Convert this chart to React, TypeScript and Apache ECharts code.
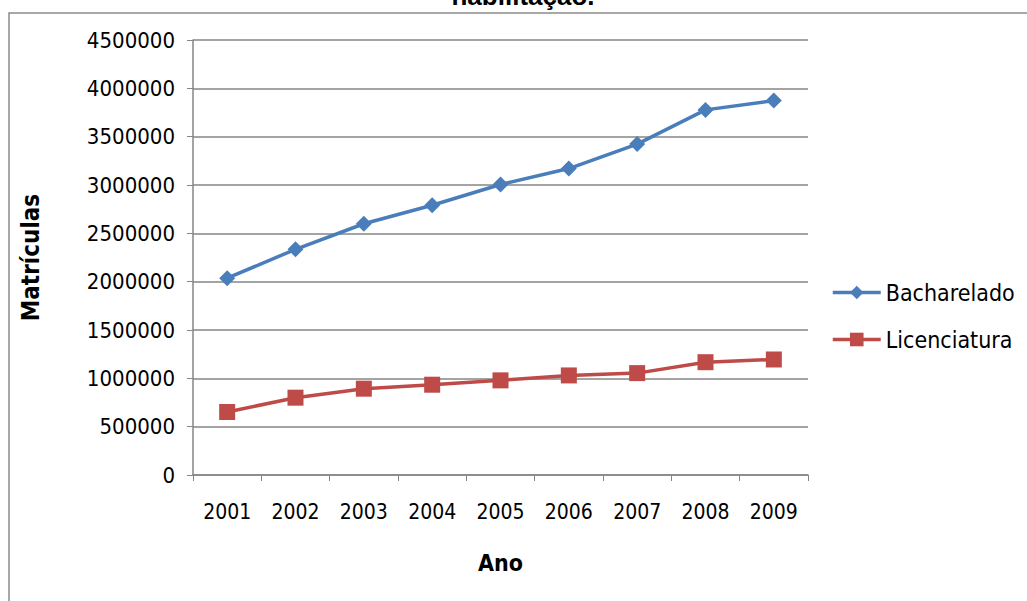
import React, { useEffect, useRef } from "react";
import * as echarts from "echarts";

const years = ["2001", "2002", "2003", "2004", "2005", "2006", "2007", "2008", "2009"];
const bacharelado = [2036000, 2335000, 2599000, 2791000, 3005000, 3170000, 3423000, 3777000, 3873000];
const licenciatura = [652000, 800000, 893000, 934000, 979000, 1030000, 1054000, 1167000, 1195000];

const FONT = "DejaVu Sans Condensed";

export default function App() {
  const ref = useRef<HTMLDivElement>(null);
  useEffect(() => {
    const chart = echarts.init(ref.current!, null, { renderer: "svg" });
    chart.setOption({
      animation: false,
      backgroundColor: "#ffffff",
      title: {
        text: "habilitação.",
        left: 518,
        textAlign: "center",
        top: -22,
        textStyle: { fontFamily: "Liberation Sans", fontWeight: "bold", fontSize: 26, color: "#000" },
      },
      graphic: [
        {
          type: "rect",
          shape: { x: 9, y: 13, width: 1040, height: 600 },
          style: { fill: "none", stroke: "#8c8c8c", lineWidth: 1.5 },
          z: -1,
        },
      ],
      grid: { left: 193, right: 219, top: 40, bottom: 126, containLabel: false },
      legend: {
        orient: "vertical",
        left: 826,
        top: 276,
        itemWidth: 48,
        itemHeight: 17,
        itemGap: 24,
        lineStyle: { width: 3.5 },
        textStyle: { fontFamily: FONT, fontSize: 23, color: "#000" },
        data: ["Bacharelado", "Licenciatura"],
      },
      xAxis: {
        type: "category",
        data: years,
        boundaryGap: true,
        name: "Ano",
        nameLocation: "middle",
        nameGap: 76,
        nameTextStyle: { fontFamily: FONT, fontSize: 23, fontWeight: "bold", color: "#000" },
        axisLine: { lineStyle: { color: "#868686", width: 1.5 } },
        axisTick: { show: true, length: 6, lineStyle: { color: "#868686" } },
        axisLabel: { fontFamily: FONT, fontSize: 21, color: "#000", margin: 26 },
      },
      yAxis: {
        type: "value",
        min: 0,
        max: 4500000,
        interval: 500000,
        name: "Matrículas",
        nameLocation: "middle",
        nameGap: 150,
        nameRotate: 90,
        nameTextStyle: { fontFamily: FONT, fontSize: 24, fontWeight: "bold", color: "#000" },
        axisLine: { show: true, lineStyle: { color: "#868686", width: 1.5 } },
        axisTick: { show: true, length: 6, lineStyle: { color: "#868686" } },
        axisLabel: { fontFamily: FONT, fontSize: 22, color: "#000", margin: 18, formatter: (v: number) => String(v) },
        splitLine: { lineStyle: { color: "#868686", width: 1.5 } },
      },
      series: [
        {
          name: "Bacharelado",
          type: "line",
          data: bacharelado,
          symbol: "diamond",
          symbolSize: 16,
          lineStyle: { color: "#4A7EBB", width: 3.5 },
          itemStyle: { color: "#4A7EBB" },
        },
        {
          name: "Licenciatura",
          type: "line",
          data: licenciatura,
          symbol: "rect",
          symbolSize: 16,
          lineStyle: { color: "#BE4B48", width: 3.5 },
          itemStyle: { color: "#BE4B48" },
        },
      ],
    });
    return () => chart.dispose();
  }, []);
  return <div ref={ref} style={{ width: 1027, height: 601, position: "absolute", left: 0, top: 0 }} />;
}
